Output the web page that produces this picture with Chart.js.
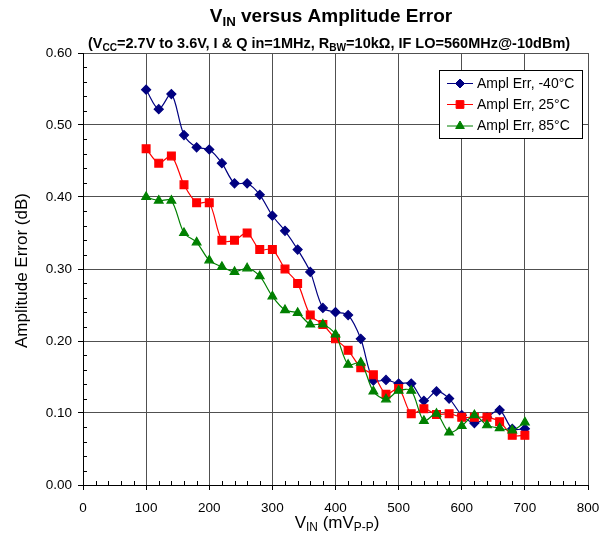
<!DOCTYPE html>
<html>
<head>
<meta charset="utf-8">
<script src="https://cdn.jsdelivr.net/npm/chart.js@4.4.1/dist/chart.umd.min.js"></script>
<style>
html,body{margin:0;padding:0;background:#fff;}
#wrap{position:relative;width:613px;height:546px;}
</style>
</head>
<body>
<div id="wrap"><canvas id="c" width="613" height="546"></canvas></div>
<script>
// ---- data ----
const vin = [100,120,140,160,180,200,220,240,260,280,300,320,340,360,380,400,420,440,460,480,500,520,540,560,580,600,620,640,660,680,700];
const errM40 = [0.549,0.522,0.543,0.486,0.469,0.466,0.447,0.419,0.419,0.403,0.374,0.353,0.327,0.296,0.246,0.240,0.236,0.203,0.145,0.146,0.141,0.141,0.117,0.130,0.120,0.097,0.086,0.094,0.104,0.078,0.078];
const err25 = [0.467,0.447,0.457,0.417,0.392,0.392,0.340,0.340,0.350,0.327,0.327,0.300,0.280,0.236,0.223,0.203,0.187,0.163,0.153,0.126,0.134,0.099,0.106,0.098,0.099,0.094,0.094,0.094,0.088,0.069,0.069];
const err85 = [0.400,0.395,0.395,0.350,0.337,0.312,0.303,0.296,0.301,0.290,0.262,0.243,0.239,0.223,0.223,0.209,0.167,0.170,0.130,0.119,0.131,0.131,0.089,0.099,0.073,0.082,0.097,0.083,0.079,0.076,0.087];
const seriesLabels = ['Ampl Err, -40°C','Ampl Err, 25°C','Ampl Err, 85°C'];
const xTicks = [0,100,200,300,400,500,600,700,800];
const yTicks = [0.00,0.10,0.20,0.30,0.40,0.50,0.60];

const FONT = 'Arial, "Liberation Sans", sans-serif';

function pts(ys){ return vin.map((x,i)=>({x:x,y:ys[i]})); }

// rich text: parts = [[text, isSub]]
const SUB = 0.7;
function richWidth(ctx, parts, size, weight){
  let w=0;
  for(const [t,sub] of parts){
    ctx.font = weight+' '+(sub?size*SUB:size)+'px '+FONT;
    w += ctx.measureText(t).width;
  }
  return w;
}
function drawRich(ctx, parts, cx, baseY, size, weight){
  const w = richWidth(ctx, parts, size, weight);
  let x = cx - w/2;
  ctx.textAlign='left'; ctx.textBaseline='alphabetic'; ctx.fillStyle='#000';
  for(const [t,sub] of parts){
    const s = sub?size*SUB:size;
    ctx.font = weight+' '+s+'px '+FONT;
    ctx.fillText(t, x, baseY + (sub?size*0.2:0));
    x += ctx.measureText(t).width;
  }
}

const decor = {
  id:'decor',
  beforeDatasetsDraw(chart){
    const ctx=chart.ctx, xs=chart.scales.x, ys=chart.scales.y, a=chart.chartArea;
    ctx.save();
    ctx.strokeStyle='#000'; ctx.lineWidth=1;
    ctx.beginPath();
    // minor ticks on x (inside, every 20)
    for(let v=0; v<=800; v+=20){
      if(v%100===0) continue;
      const px=Math.round(xs.getPixelForValue(v))+0.5;
      ctx.moveTo(px,a.bottom); ctx.lineTo(px,a.bottom-4);
    }
    // minor ticks on y (inside, every 0.02)
    for(let k=0;k<=30;k++){
      if(k%5===0) continue;
      const py=Math.round(ys.getPixelForValue(k*0.02))+0.5;
      ctx.moveTo(a.left,py); ctx.lineTo(a.left+4,py);
    }
    ctx.stroke();
    ctx.restore();
  },
  afterDraw(chart){
    const ctx=chart.ctx, a=chart.chartArea;
    ctx.save();
    // titles
    drawRich(ctx, [['V',0],['IN',1],[' versus Amplitude Error',0]], 331, 22, 19, 'bold');
    drawRich(ctx, [['(V',0],['CC',1],['=2.7V to 3.6V, I & Q in=1MHz, R',0],['BW',1],['=10kΩ, IF LO=560MHz@-10dBm)',0]], 329, 48, 14.5, 'bold');
    drawRich(ctx, [['V',0],['IN',1],[' (mV',0],['P-P',1],[')',0]], 337, 528, 17, 'normal');
    // y axis title
    ctx.save();
    ctx.translate(22, 270.5);
    ctx.rotate(-Math.PI/2);
    ctx.font='17px '+FONT; ctx.fillStyle='#000'; ctx.textAlign='center'; ctx.textBaseline='middle';
    ctx.fillText('Amplitude Error (dB)',0,0);
    ctx.restore();
    // legend
    const bx=439.5, by=70.5, bw=143, bh=68;
    ctx.fillStyle='#fff'; ctx.fillRect(bx,by,bw,bh);
    ctx.strokeStyle='#000'; ctx.lineWidth=1; ctx.strokeRect(bx,by,bw,bh);
    const rows=[83.5,104.5,126];
    chart.data.datasets.forEach((ds,i)=>{
      const y=rows[i];
      ctx.strokeStyle=ds.borderColor; ctx.lineWidth=1;
      ctx.beginPath(); ctx.moveTo(447,y); ctx.lineTo(473,y); ctx.stroke();
      ctx.fillStyle=ds.pointBackgroundColor; ctx.strokeStyle=ds.pointBorderColor;
      Chart.helpers.drawPoint(ctx,{pointStyle:ds.pointStyle,rotation:0,radius:ds.pointRadius,borderWidth:1},460,y);
      ctx.fillStyle='#000'; ctx.font='14px '+FONT; ctx.textAlign='left'; ctx.textBaseline='middle';
      ctx.fillText(ds.label,477,y+0.5);
    });
    ctx.restore();
  }
};

new Chart(document.getElementById('c'), {
  type:'line',
  data:{
    datasets:[
      {label:seriesLabels[0], data:pts(errM40), borderColor:'#000080', backgroundColor:'#000080', pointBackgroundColor:'#000080', pointBorderColor:'#000080', pointStyle:'rectRot', pointRadius:4.5, borderWidth:1.2, tension:0.3, order:3},
      {label:seriesLabels[1], data:pts(err25), borderColor:'#FF0000', backgroundColor:'#FF0000', pointBackgroundColor:'#FF0000', pointBorderColor:'#FF0000', pointStyle:'rect', pointRadius:5.5, borderWidth:1.2, tension:0.3, order:2},
      {label:seriesLabels[2], data:pts(err85), borderColor:'#008000', backgroundColor:'#008000', pointBackgroundColor:'#008000', pointBorderColor:'#008000', pointStyle:'triangle', pointRadius:5, borderWidth:1.2, tension:0.3, order:1}
    ]
  },
  options:{
    responsive:false, animation:false, devicePixelRatio:1,
    layout:{padding:{top:53,right:25,left:0,bottom:0}},
    plugins:{legend:{display:false}, title:{display:false}, tooltip:{enabled:false}},
    scales:{
      x:{type:'linear', min:0, max:800,
         afterFit(s){ s.height=61; },
         afterBuildTicks(s){ s.ticks = xTicks.map(v=>({value:v})); },
         ticks:{font:{family:FONT,size:13.5}, color:'#000', padding:10, maxRotation:0, callback:v=>String(v)},
         grid:{color:'#505050', lineWidth:1, tickColor:'#000', tickLength:5, drawTicks:true},
         border:{display:true,color:'#000',width:1}},
      y:{type:'linear', min:0, max:0.6,
         afterFit(s){ s.width=83; },
         afterBuildTicks(s){ s.ticks = yTicks.map(v=>({value:v})); },
         ticks:{font:{family:FONT,size:13.5}, color:'#000', padding:6, callback:v=>Number(v).toFixed(2)},
         grid:{color:'#505050', lineWidth:1, tickColor:'#000', tickLength:5, drawTicks:true},
         border:{display:true,color:'#000',width:1}}
    }
  },
  plugins:[decor]
});
</script>
</body>
</html>
